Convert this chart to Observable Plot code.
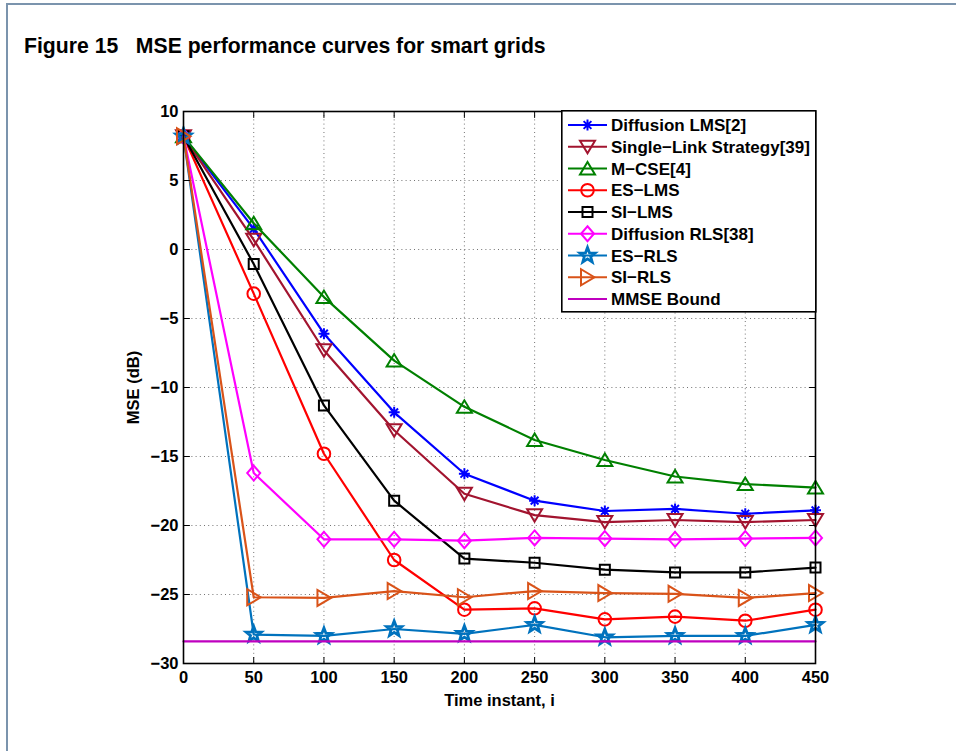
<!DOCTYPE html>
<html>
<head>
<meta charset="utf-8">
<script src="https://cdn.jsdelivr.net/npm/d3@7"></script>
<script src="https://cdn.jsdelivr.net/npm/@observablehq/plot@0.6"></script>
<style>
html,body{margin:0;padding:0;background:#fff;}
body{width:956px;height:751px;position:relative;overflow:hidden;font-family:"Liberation Sans",Arial,Helvetica,sans-serif;}
#frame{position:absolute;left:6px;top:3px;width:1200px;height:1200px;border-left:2px solid #7b94ad;border-top:2px solid #7b94ad;}
#title{position:absolute;left:24px;top:34px;font-weight:bold;font-size:21.2px;white-space:pre;color:#000;}
#chart{position:absolute;left:0;top:80px;}
#legend{position:absolute;left:561px;top:110px;}
</style>
</head>
<body>
<div id="frame"></div>
<div id="title">Figure 15   MSE performance curves for smart grids</div>
<div id="chart"></div>
<div id="legend"></div>
<script>
// ---- data ----
const timeInstants = [0, 50, 100, 150, 200, 250, 300, 350, 400, 450];
const diffusionLMS = [8.2, 1.5, -6.1, -11.8, -16.25, -18.2, -18.95, -18.8, -19.15, -18.9];
const singleLink   = [8.2, 0.7, -7.3, -13.1, -17.7, -19.25, -19.75, -19.6, -19.75, -19.6];
const mCSE         = [8.2, 1.9, -3.45, -8.05, -11.4, -13.8, -15.25, -16.45, -17.0, -17.25];
const esLMS        = [8.2, -3.2, -14.8, -22.5, -26.1, -26.0, -26.8, -26.6, -26.9, -26.1];
const siLMS        = [8.2, -1.05, -11.3, -18.2, -22.4, -22.7, -23.2, -23.4, -23.4, -23.05];
const diffusionRLS = [8.2, -16.2, -21.0, -21.0, -21.1, -20.9, -20.95, -21.0, -20.95, -20.9];
const esRLS        = [8.2, -27.9, -28.0, -27.5, -27.85, -27.2, -28.1, -28.0, -28.0, -27.2];
const siRLS        = [8.2, -25.2, -25.25, -24.75, -25.2, -24.75, -24.9, -24.95, -25.25, -24.9];
const mmseBound    = -28.4;
const xTicks = [0, 50, 100, 150, 200, 250, 300, 350, 400, 450];
const yTicks = [-30, -25, -20, -15, -10, -5, 0, 5, 10];
const seriesNames = ["Diffusion LMS[2]", "Single\u2212Link Strategy[39]", "M\u2212CSE[4]", "ES\u2212LMS", "SI\u2212LMS", "Diffusion RLS[38]", "ES\u2212RLS", "SI\u2212RLS"];
const boundName = "MMSE Bound";

// ---- marker shapes ----
const sym = {
  asterisk: {draw(c){const r=5.5; for(const a of [0,45,90,135]){const t=a*Math.PI/180; c.moveTo(-r*Math.cos(t),-r*Math.sin(t)); c.lineTo(r*Math.cos(t),r*Math.sin(t));}}},
  triDown: {draw(c){c.moveTo(0,6.5);c.lineTo(-7.5,-6);c.lineTo(7.5,-6);c.closePath();}},
  triUp: {draw(c){c.moveTo(0,-6.5);c.lineTo(-7.5,6);c.lineTo(7.5,6);c.closePath();}},
  triRight: {draw(c){c.moveTo(7,0);c.lineTo(-6.5,-8);c.lineTo(-6.5,8);c.closePath();}},
  circle: {draw(c){c.moveTo(6.3,0);c.arc(0,0,6.3,0,2*Math.PI);c.closePath();}},
  square: {draw(c){c.rect(-5,-5,10,10);}},
  diamond: {draw(c){c.moveTo(0,-7.5);c.lineTo(6.5,0);c.lineTo(0,7.5);c.lineTo(-6.5,0);c.closePath();}},
  star: {draw(c){const R=8,r=R*0.42; for(let i=0;i<10;i++){const rr=i%2?r:R; const t=-Math.PI/2+i*Math.PI/5; const x=rr*Math.cos(t), y=rr*Math.sin(t); if(i===0)c.moveTo(x,y); else c.lineTo(x,y);} c.closePath();}}
};

const seriesValues = [diffusionLMS, singleLink, mCSE, esLMS, siLMS, diffusionRLS, esRLS, siRLS];
const seriesColors = ["#0000ff", "#a2142f", "#008000", "#ff0000", "#000000", "#ff00ff", "#0072bd", "#d95319"];
const seriesSymbols = [sym.asterisk, sym.triDown, sym.triUp, sym.circle, sym.square, sym.diamond, sym.star, sym.triRight];
const seriesMarkerWidth = [2, 2, 2, 2, 2, 2, 2.8, 2];
const boundColor = "#bf00bf";

const tickShape = {draw(c, l){c.moveTo(0,0); c.lineTo(0,-l);}};
const fontFamily = '"Liberation Sans", Arial, Helvetica, sans-serif';

const marks = [];
// grid
marks.push(Plot.ruleX(xTicks.slice(1, -1), {x: d => d, stroke: "#000", strokeOpacity: 0.55, strokeDasharray: "1,3.2", strokeWidth: 1}));
marks.push(Plot.ruleY(yTicks.slice(1, -1), {y: d => d, stroke: "#000", strokeOpacity: 0.55, strokeDasharray: "1,3.2", strokeWidth: 1}));

seriesValues.forEach((vals, i) => {
  const data = vals.map((v, j) => ({x: timeInstants[j], y: v}));
  marks.push(Plot.line(data, {x: "x", y: "y", stroke: seriesColors[i], strokeWidth: 2.2}));
  marks.push(Plot.dot(data, {x: "x", y: "y", symbol: seriesSymbols[i], fill: "none", stroke: seriesColors[i], strokeWidth: seriesMarkerWidth[i]}));
});
marks.push(Plot.line([{x: xTicks[0], y: mmseBound}, {x: xTicks[xTicks.length - 1], y: mmseBound}], {x: "x", y: "y", stroke: boundColor, strokeWidth: 2.2}));

// inward ticks on all four sides
const yMin = yTicks[0], yMax = yTicks[yTicks.length - 1], xMin = xTicks[0], xMax = xTicks[xTicks.length - 1];
marks.push(Plot.vector(xTicks, {x: d => d, y: () => yMin, length: 6, rotate: 0, anchor: "start", shape: tickShape, stroke: "#000", strokeWidth: 1}));
marks.push(Plot.vector(xTicks, {x: d => d, y: () => yMax, length: 6, rotate: 180, anchor: "start", shape: tickShape, stroke: "#000", strokeWidth: 1}));
marks.push(Plot.vector(yTicks, {x: () => xMin, y: d => d, length: 6, rotate: 90, anchor: "start", shape: tickShape, stroke: "#000", strokeWidth: 1}));
marks.push(Plot.vector(yTicks, {x: () => xMax, y: d => d, length: 6, rotate: -90, anchor: "start", shape: tickShape, stroke: "#000", strokeWidth: 1}));

marks.push(Plot.axisX(xTicks, {tickSize: 0, tickPadding: 8, fontSize: 16.5, fontWeight: "bold", label: "Time instant, i", labelAnchor: "center", labelOffset: 42, labelArrow: "none"}));
marks.push(Plot.axisY(yTicks, {tickSize: 0, tickPadding: 5, fontSize: 16.5, fontWeight: "bold", label: "MSE (dB)", labelAnchor: "center", labelOffset: 56, labelArrow: "none"}));
marks.push(Plot.frame({stroke: "#000", strokeWidth: 1.6}));

const chart = Plot.plot({
  width: 956,
  height: 640,
  marginTop: 31,
  marginBottom: 57,
  marginLeft: 183,
  marginRight: 141,
  x: {domain: [xMin, xMax]},
  y: {domain: [yMin, yMax]},
  style: {fontFamily, fontSize: "16.5px", fontWeight: "bold", color: "#000", background: "transparent", overflow: "visible"},
  marks
});
document.getElementById("chart").appendChild(chart);

// ---- legend ----
const legendW = 254, legendH = 201, rowH = 21.75, row0 = 15;
const lsvg = d3.select("#legend").append("svg").attr("width", legendW + 2).attr("height", legendH + 2)
  .style("overflow", "visible");
lsvg.append("rect").attr("x", 0.8).attr("y", 0.8).attr("width", legendW).attr("height", legendH)
  .attr("fill", "#fff").attr("stroke", "#000").attr("stroke-width", 1.6);
const legendItems = seriesNames.map((n, i) => ({name: n, color: seriesColors[i], symbol: seriesSymbols[i], sw: seriesMarkerWidth[i]}))
  .concat([{name: boundName, color: boundColor, symbol: null, sw: 2}]);
legendItems.forEach((it, i) => {
  const cy = row0 + i * rowH;
  const g = lsvg.append("g").attr("transform", `translate(0,${cy})`);
  g.append("line").attr("x1", 7).attr("x2", 46).attr("y1", 0).attr("y2", 0).attr("stroke", it.color).attr("stroke-width", 2.2);
  if (it.symbol) g.append("path").attr("transform", "translate(26.5,0)").attr("d", d3.symbol(it.symbol)()).attr("fill", "none").attr("stroke", it.color).attr("stroke-width", it.sw);
  g.append("text").attr("x", 50).attr("y", 0).attr("dy", "0.36em").attr("font-family", fontFamily)
    .attr("font-size", 17).attr("font-weight", "bold").attr("fill", "#000").text(it.name);
});
</script>
</body>
</html>
